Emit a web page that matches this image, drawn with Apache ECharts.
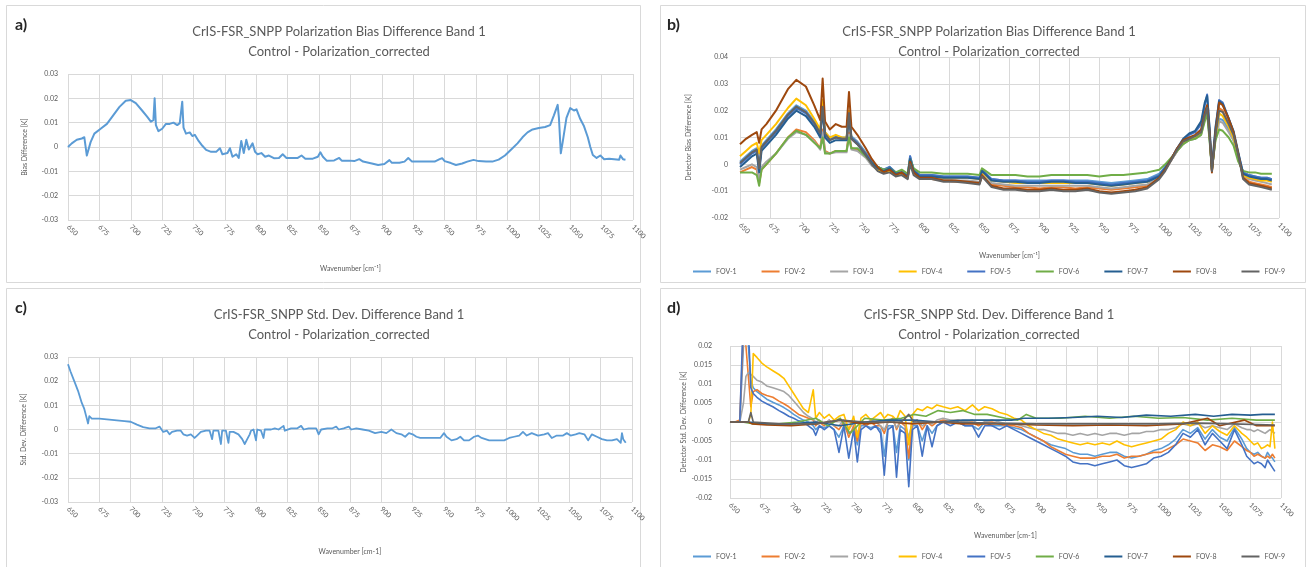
<!DOCTYPE html>
<html><head><meta charset="utf-8">
<script src="https://cdn.jsdelivr.net/npm/echarts/dist/echarts.min.js"></script>
<style>html,body{margin:0;padding:0;background:#fff}#c{width:1310px;height:567px}</style>
</head><body><div id="c"></div>
<script>
// ---------- DATA ----------
const titleTop = 'CrIS-FSR_SNPP Polarization Bias Difference Band 1\nControl - Polarization_corrected';
const titleBot = 'CrIS-FSR_SNPP Std. Dev. Difference Band 1\nControl - Polarization_corrected';
const fovNames = ['FOV-1','FOV-2','FOV-3','FOV-4','FOV-5','FOV-6','FOV-7','FOV-8','FOV-9'];
const fovColors = ['#5B9BD5','#ED7D31','#A5A5A5','#FFC000','#4472C4','#70AD47','#255E91','#9E480E','#636363'];

// panel a: [wavenumber, bias difference]
const biasA = [[650,0],[653,0.0015],[657,0.003],[661,0.0035],[663,0.004],[665,-0.0035],[666,-0.004],[668,0.002],[671,0.0055],[676,0.0075],[681,0.0095],[686,0.013],[691,0.0165],[696,0.019],[700,0.0193],[704,0.018],[709,0.015],[713,0.0125],[716,0.0104],[718,0.011],[719,0.02],[720,0.009],[722,0.0065],[725,0.0075],[728,0.0095],[731,0.0095],[734,0.01],[737,0.009],[739,0.0098],[741,0.0186],[742,0.008],[744,0.0055],[747,0.006],[749,0.0045],[751,0.005],[754,0.0025],[757,0.0005],[760,-0.0012],[764,-0.002],[768,-0.002],[771,-0.0005],[773,-0.003],[777,-0.0025],[779,-0.0005],[781,-0.004],[784,-0.003],[786,-0.0045],[788,0.0025],[790,-0.0025],[792,0.003],[794,-0.001],[797,0.0015],[799,-0.002],[801,-0.003],[804,-0.0025],[807,-0.004],[810,-0.0035],[814,-0.0046],[818,-0.0045],[821,-0.003],[824,-0.0045],[828,-0.0045],[833,-0.0045],[836,-0.0035],[839,-0.0048],[845,-0.0048],[849,-0.004],[851,-0.0022],[853,-0.004],[856,-0.0056],[862,-0.0055],[866,-0.0045],[868,-0.0056],[874,-0.0056],[878,-0.0058],[882,-0.005],[885,-0.006],[892,-0.0068],[897,-0.0074],[902,-0.007],[906,-0.0054],[908,-0.0065],[914,-0.0065],[918,-0.006],[921,-0.0045],[924,-0.006],[930,-0.006],[936,-0.006],[942,-0.006],[946,-0.005],[948,-0.0046],[950,-0.0058],[955,-0.0066],[959,-0.0074],[964,-0.0068],[968,-0.006],[973,-0.0053],[977,-0.0058],[983,-0.006],[988,-0.006],[993,-0.0052],[998,-0.0035],[1003,-0.001],[1008,0.0015],[1012,0.004],[1016,0.006],[1020,0.0072],[1025,0.0078],[1030,0.0082],[1034,0.009],[1037,0.013],[1040,0.0173],[1041,0.012],[1042.5,-0.0026],[1044,0.002],[1047,0.012],[1050,0.016],[1053,0.015],[1055,0.0155],[1058,0.0115],[1061,0.0085],[1064,0.004],[1066,0],[1068,-0.0033],[1071,-0.0045],[1074,-0.0035],[1077,-0.005],[1081,-0.0048],[1085,-0.005],[1089,-0.0052],[1090,-0.0035],[1092,-0.005],[1094,-0.0052]];

// panel c: [wavenumber, std. dev. difference]
const stdC = [[650,0.027],[652,0.024],[655,0.02],[658,0.016],[661,0.011],[663,0.0085],[665,0.0045],[666,0.0025],[667,0.0055],[669,0.0045],[675,0.0045],[685,0.004],[695,0.0035],[700,0.0032],[705,0.002],[710,0.001],[715,0.0005],[720,0.0005],[723,0.0012],[726,-0.001],[729,-0.0005],[731,-0.002],[733,-0.001],[737,-0.0005],[740,-0.0005],[742,-0.002],[745,-0.0025],[748,-0.002],[751,-0.0035],[753,-0.0025],[756,-0.001],[760,-0.0005],[763,-0.0005],[765,-0.004],[766,-0.0005],[770,-0.0005],[772,-0.006],[773,-0.0005],[776,-0.0005],[778,-0.0055],[779,-0.001],[782,-0.001],[786,-0.002],[789,-0.004],[791,-0.006],[793,-0.004],[795,-0.002],[796,-0.0005],[798,0],[800,-0.0045],[801,0],[804,-0.0005],[806,-0.0035],[807,0],[812,0],[815,0.0005],[818,0],[822,0.0015],[823,-0.0005],[828,0.0005],[833,0.0005],[836,0.0015],[838,0],[842,0.0005],[848,0.0005],[850,-0.002],[852,0],[857,0.0005],[861,0.0005],[864,0.0012],[866,0],[870,0.0005],[874,0.0012],[876,0],[880,0.0005],[885,0],[890,-0.0005],[895,-0.0015],[900,-0.001],[904,-0.0015],[908,0],[912,-0.0015],[916,-0.002],[919,-0.003],[922,-0.0015],[925,-0.002],[928,-0.003],[931,-0.0035],[936,-0.0035],[942,-0.0035],[947,-0.0035],[950,-0.0015],[952,-0.003],[956,-0.0045],[960,-0.004],[963,-0.003],[966,-0.0045],[970,-0.0045],[974,-0.003],[977,-0.0025],[980,-0.0035],[986,-0.0045],[992,-0.0045],[998,-0.0045],[1002,-0.0035],[1006,-0.003],[1010,-0.0025],[1013,-0.001],[1016,-0.0025],[1020,-0.0015],[1025,-0.0025],[1030,-0.002],[1033,-0.0015],[1036,-0.0035],[1040,-0.0025],[1045,-0.0025],[1048,-0.0015],[1051,-0.0025],[1055,-0.002],[1058,-0.0015],[1062,-0.002],[1065,-0.0045],[1068,-0.002],[1072,-0.003],[1076,-0.004],[1080,-0.0045],[1084,-0.0045],[1088,-0.004],[1091,-0.0055],[1092,-0.0015],[1093,-0.004],[1095,-0.0055]];

// panel b: shared wavenumbers, one value list per FOV
const wnB = [650,655,660,664,666,668,672,680,690,697,
  705,712,717,719,721,725,730,735,739,741,
  743,748,755,760,765,770,775,780,785,790,
  792,795,800,810,820,830,840,850,852,860,
  870,880,890,900,910,920,930,940,950,960,
  970,980,990,1000,1005,1010,1015,1020,1025,1030,
  1035,1038,1040,1042,1044,1047,1050,1053,1058,1062,
  1066,1070,1075,1080,1085,1090,1094];
const b1 = [0.001,0.003,0.005,0.006,-0.001,0.007,0.009,0.013,0.019,0.022,
  0.020,0.016,0.012,0.022,0.012,0.0095,0.0105,0.010,0.010,0.019,
  0.0105,0.0085,0.0045,0.001,-0.001,-0.002,-0.001,-0.003,-0.0025,-0.004,
  0.003,-0.002,-0.004,-0.004,-0.0045,-0.0045,-0.0045,-0.005,-0.002,-0.0055,
  -0.006,-0.006,-0.006,-0.006,-0.006,-0.006,-0.006,-0.006,-0.0065,-0.007,
  -0.0065,-0.006,-0.0055,-0.0035,-0.001,0.0015,0.005,0.008,0.0095,0.010,
  0.0125,0.018,0.020,0.010,-0.002,0.010,0.017,0.0165,0.013,0.009,
  0.0025,-0.003,-0.004,-0.0045,-0.005,-0.005,-0.0055];
const b2 = [-0.003,-0.002,-0.001,-0.002,-0.007,-0.002,0.000,0.004,0.010,0.013,
  0.012,0.009,0.006,0.013,0.005,0.004,0.005,0.005,0.005,0.012,
  0.006,0.0055,0.003,0.0,-0.002,-0.003,-0.0025,-0.004,-0.0035,-0.005,
  0.001,-0.003,-0.005,-0.0055,-0.006,-0.0065,-0.0065,-0.007,-0.0045,-0.0075,
  -0.008,-0.0085,-0.0085,-0.009,-0.0085,-0.0085,-0.009,-0.0085,-0.009,-0.0095,
  -0.009,-0.0085,-0.008,-0.005,-0.002,0.0015,0.005,0.008,0.0095,0.0105,
  0.0125,0.019,0.022,0.012,-0.0025,0.012,0.021,0.020,0.0155,0.011,
  0.0035,-0.0045,-0.0065,-0.007,-0.0075,-0.008,-0.0085];
const b3 = [-0.002,-0.001,0.0,-0.001,-0.006,-0.001,0.001,0.004,0.0095,0.012,
  0.011,0.0085,0.0055,0.012,0.0045,0.004,0.0045,0.0045,0.0045,0.011,
  0.0055,0.005,0.0025,-0.0005,-0.002,-0.003,-0.0025,-0.004,-0.0035,-0.005,
  0.0015,-0.003,-0.0045,-0.005,-0.0055,-0.006,-0.006,-0.0065,-0.004,-0.007,
  -0.0075,-0.008,-0.008,-0.008,-0.008,-0.008,-0.008,-0.008,-0.0085,-0.009,
  -0.0085,-0.008,-0.0075,-0.0045,-0.0015,0.0015,0.005,0.0075,0.009,0.0095,
  0.011,0.017,0.019,0.010,-0.0025,0.010,0.016,0.0155,0.012,0.009,
  0.0025,-0.004,-0.0055,-0.006,-0.0065,-0.007,-0.0075];
const b4 = [0.003,0.005,0.007,0.008,0.004,0.009,0.011,0.015,0.021,0.0245,
  0.022,0.017,0.013,0.024,0.012,0.010,0.011,0.010,0.010,0.020,
  0.010,0.008,0.004,0.0005,-0.002,-0.003,-0.0025,-0.004,-0.0035,-0.005,
  0.002,-0.003,-0.0045,-0.0045,-0.005,-0.005,-0.005,-0.0055,-0.003,-0.006,
  -0.0065,-0.007,-0.007,-0.007,-0.007,-0.007,-0.007,-0.007,-0.0075,-0.008,
  -0.0075,-0.007,-0.0065,-0.004,-0.0015,0.002,0.0055,0.008,0.0095,0.010,
  0.012,0.018,0.021,0.011,-0.002,0.010,0.019,0.018,0.014,0.010,
  0.003,-0.004,-0.005,-0.0055,-0.006,-0.006,-0.0065];
const b5 = [0.000,0.002,0.004,0.005,-0.002,0.006,0.008,0.012,0.018,0.021,
  0.019,0.015,0.011,0.021,0.011,0.009,0.010,0.0095,0.0095,0.019,
  0.010,0.008,0.004,0.001,-0.001,-0.002,-0.001,-0.003,-0.003,-0.004,
  0.003,-0.002,-0.004,-0.004,-0.0045,-0.0045,-0.0045,-0.005,-0.002,-0.0055,
  -0.006,-0.006,-0.0065,-0.0065,-0.006,-0.006,-0.0065,-0.0065,-0.007,-0.0075,
  -0.007,-0.0065,-0.006,-0.004,-0.001,0.002,0.006,0.009,0.011,0.012,
  0.015,0.022,0.026,0.013,-0.002,0.013,0.024,0.023,0.017,0.012,
  0.004,-0.003,-0.004,-0.0045,-0.005,-0.005,-0.0055];
const b6 = [-0.003,-0.003,-0.003,-0.004,-0.008,-0.002,0.000,0.004,0.010,0.0125,
  0.011,0.008,0.006,0.010,0.004,0.004,0.005,0.005,0.005,0.010,
  0.006,0.006,0.003,0.0005,-0.001,-0.002,-0.0015,-0.003,-0.002,-0.0035,
  0.002,-0.0015,-0.003,-0.003,-0.0035,-0.0035,-0.0035,-0.004,-0.0015,-0.004,
  -0.004,-0.004,-0.0045,-0.0045,-0.004,-0.004,-0.004,-0.004,-0.0045,-0.004,
  -0.004,-0.0035,-0.003,-0.002,0.0,0.0025,0.005,0.0075,0.009,0.0095,
  0.011,0.016,0.019,0.009,-0.002,0.009,0.013,0.0125,0.010,0.007,
  0.001,-0.0025,-0.003,-0.003,-0.0035,-0.0035,-0.0035];
const b7 = [-0.001,0.001,0.003,0.004,-0.003,0.005,0.007,0.011,0.017,0.020,
  0.018,0.014,0.010,0.020,0.010,0.008,0.009,0.009,0.009,0.018,
  0.0095,0.0075,0.0035,0.0005,-0.0015,-0.0025,-0.0015,-0.0035,-0.003,-0.0045,
  0.002,-0.0025,-0.0045,-0.0045,-0.005,-0.005,-0.005,-0.0055,-0.0025,-0.006,
  -0.0065,-0.0065,-0.007,-0.007,-0.0065,-0.0065,-0.007,-0.007,-0.0075,-0.008,
  -0.0075,-0.007,-0.0065,-0.0045,-0.0015,0.002,0.006,0.0095,0.0115,0.0125,
  0.016,0.023,0.0255,0.014,-0.001,0.014,0.0235,0.0225,0.017,0.0125,
  0.0045,-0.0035,-0.0045,-0.005,-0.0055,-0.0055,-0.006];
const b8 = [0.0075,0.0095,0.011,0.012,0.008,0.013,0.015,0.020,0.028,0.0315,
  0.029,0.022,0.0165,0.032,0.016,0.013,0.015,0.014,0.014,0.027,
  0.014,0.011,0.006,0.002,-0.001,-0.003,-0.002,-0.004,-0.003,-0.005,
  0.001,-0.003,-0.005,-0.005,-0.006,-0.006,-0.0065,-0.007,-0.004,-0.008,
  -0.009,-0.009,-0.0095,-0.0095,-0.009,-0.0095,-0.0095,-0.009,-0.010,-0.0105,
  -0.010,-0.0095,-0.0085,-0.005,-0.002,0.002,0.006,0.009,0.010,0.011,
  0.013,0.019,0.022,0.012,-0.003,0.012,0.023,0.022,0.017,0.012,
  0.004,-0.005,-0.007,-0.0075,-0.008,-0.0085,-0.009];
const b9 = [0.0005,0.0025,0.0045,0.0055,-0.0015,0.0065,0.0085,0.0125,0.0185,0.0215,
  0.0195,0.0155,0.0115,0.0215,0.0115,0.009,0.010,0.0095,0.0095,0.019,
  0.0095,0.0075,0.0035,0.0,-0.0025,-0.0035,-0.003,-0.0045,-0.004,-0.0055,
  0.0,-0.004,-0.0055,-0.0055,-0.0065,-0.0065,-0.007,-0.0075,-0.0045,-0.0085,
  -0.0095,-0.0095,-0.010,-0.010,-0.0095,-0.010,-0.010,-0.0095,-0.0105,-0.011,
  -0.0105,-0.010,-0.009,-0.0055,-0.0025,0.0015,0.0055,0.0085,0.0095,0.0105,
  0.012,0.018,0.021,0.011,-0.0025,0.011,0.020,0.0195,0.015,0.011,
  0.0035,-0.0055,-0.0075,-0.008,-0.0085,-0.009,-0.0095];

// panel d: shared wavenumbers for FOV-1..5, pairs for near-zero FOV-6..9
const wnD = [650,654,658,661,663,665,667,669,672,676,
  680,685,690,694,698,702,706,710,714,718,
  720,723,727,731,735,739,743,747,751,754,
  757,761,765,769,773,776,779,783,786,789,
  793,796,799,803,807,811,815,819,824,830,
  836,842,848,853,858,864,870,876,882,888,
  894,900,906,912,918,924,930,936,942,948,
  954,960,966,972,978,984,990,996,1002,1008,
  1014,1020,1026,1032,1038,1044,1050,1056,1062,1068,
  1072,1075,1078,1081,1084,1087,1089,1091,1093,1095];
const d1 = [0,0,0,0.02,0.03,0.02,0.011,0.009,0.008,0.007,
  0.006,0.0052,0.0045,0.0038,0.003,0.002,0.0012,0.0005,0,-0.001,
  -0.002,-0.001,-0.0015,-0.001,-0.002,-0.004,-0.001,-0.003,-0.002,-0.006,
  -0.001,-0.001,-0.0015,-0.001,-0.002,-0.009,-0.001,-0.001,-0.008,-0.001,
  -0.002,-0.01,-0.001,-0.001,-0.005,-0.001,-0.003,-0.001,0,0,
  0,-0.001,-0.001,-0.002,0,-0.001,-0.001,-0.001,-0.0015,-0.002,
  -0.003,-0.004,-0.005,-0.006,-0.0065,-0.007,-0.008,-0.0085,-0.0085,-0.009,
  -0.0085,-0.008,-0.008,-0.009,-0.0095,-0.009,-0.0085,-0.0075,-0.007,-0.006,
  -0.0045,-0.002,-0.003,-0.0015,-0.0045,-0.002,-0.004,-0.005,-0.0015,-0.0045,
  -0.007,-0.008,-0.0085,-0.008,-0.009,-0.0095,-0.008,-0.009,-0.0095,-0.0105];
const d2 = [0,0,0.0005,0.025,0.02,0.012,0.004,0.008,0.0085,0.0075,
  0.007,0.0065,0.0055,0.0048,0.004,0.003,0.002,0.0015,0.001,0.0005,
  -0.001,0,-0.001,0.0005,-0.001,-0.002,0,-0.004,-0.001,-0.005,
  0,-0.001,0,-0.001,-0.001,-0.003,0,0.001,-0.002,0,
  -0.001,-0.0095,0,0.0005,-0.002,0,-0.001,0,0.0005,0,
  0.0005,0,0,-0.001,0,0,-0.0005,-0.001,-0.001,-0.0015,
  -0.003,-0.004,-0.005,-0.0065,-0.0075,-0.0085,-0.009,-0.0095,-0.0095,-0.0095,
  -0.009,-0.009,-0.0085,-0.0095,-0.009,-0.009,-0.0085,-0.008,-0.008,-0.007,
  -0.006,-0.0045,-0.005,-0.0055,-0.0075,-0.006,-0.0065,-0.0075,-0.005,-0.0065,
  -0.0075,-0.008,-0.009,-0.0085,-0.009,-0.0095,-0.009,-0.0095,-0.0085,-0.0095];
const d3 = [0,0,0,0.005,0.012,0.013,0.0125,0.012,0.011,0.0105,
  0.0095,0.009,0.0085,0.008,0.007,0.0055,0.004,0.0025,0.0015,0.0008,
  0,0.0005,-0.0005,0.0005,-0.001,-0.001,0.0005,-0.002,0,-0.003,
  0,-0.0005,0.0005,0,-0.001,-0.002,0,0.0005,-0.0015,0,
  -0.0005,-0.004,0,0.0005,-0.001,0,-0.0005,0.0005,0.001,0.0005,
  0.0005,0,0.0005,-0.0005,0,0.0005,0,-0.0005,-0.0005,-0.001,
  -0.0015,-0.002,-0.002,-0.0025,-0.003,-0.003,-0.0035,-0.003,-0.0035,-0.003,
  -0.0035,-0.003,-0.003,-0.0035,-0.003,-0.003,-0.0025,-0.0025,-0.002,-0.002,
  -0.0015,-0.0005,-0.001,-0.0005,-0.0015,-0.001,-0.0015,-0.002,-0.0005,-0.0015,
  -0.002,-0.002,-0.0025,-0.002,-0.0025,-0.003,-0.0025,-0.002,-0.0025,-0.003];
const d4 = [0,0,0,0,0,0,0.002,0.018,0.017,0.0155,
  0.0145,0.0135,0.0125,0.0115,0.0095,0.0075,0.0055,0.0035,0.0025,0.0085,
  0.001,0.0025,0.001,0.002,0.0005,0.0015,0.002,-0.002,0.0015,-0.004,
  0.001,0.002,0.0005,0.0015,0.0025,0.001,0.002,0.0015,0.0005,0.003,
  0.0015,-0.006,0.002,0.0035,0.003,0.004,0.0035,0.0045,0.004,0.0035,
  0.004,0.003,0.0045,0.003,0.004,0.0035,0.0025,0.002,0.001,0.0005,
  -0.001,-0.002,-0.003,-0.0035,-0.0045,-0.005,-0.0055,-0.006,-0.0055,-0.006,
  -0.0055,-0.006,-0.005,-0.006,-0.0065,-0.006,-0.0055,-0.005,-0.0045,-0.003,
  -0.002,0,-0.001,0,-0.003,-0.001,-0.0025,-0.0035,-0.001,-0.003,
  -0.004,-0.005,-0.006,-0.0055,-0.007,-0.0065,-0.006,-0.0065,0,-0.007];
const d5 = [0,0,0,0.03,0.03,0.025,0.009,0.0075,0.0065,0.0055,
  0.0048,0.004,0.003,0.0023,0.0015,0.001,0.0003,0,-0.001,-0.002,
  -0.0035,-0.001,-0.002,-0.001,-0.002,-0.008,-0.001,-0.0095,-0.002,-0.0105,
  -0.002,-0.001,-0.002,-0.001,-0.003,-0.014,-0.002,-0.001,-0.0145,-0.002,
  -0.003,-0.017,-0.002,-0.001,-0.009,-0.001,-0.0065,-0.001,0,-0.001,
  0,-0.001,-0.001,-0.004,-0.001,-0.001,-0.002,-0.001,-0.002,-0.003,
  -0.004,-0.005,-0.006,-0.007,-0.008,-0.009,-0.0105,-0.011,-0.011,-0.0115,
  -0.011,-0.0105,-0.01,-0.0115,-0.012,-0.0115,-0.011,-0.0095,-0.009,-0.008,
  -0.006,-0.003,-0.004,-0.002,-0.006,-0.003,-0.005,-0.007,-0.002,-0.006,
  -0.009,-0.01,-0.011,-0.0105,-0.011,-0.012,-0.01,-0.011,-0.012,-0.013];
const d6 = [[650,0],[660,0],[670,-0.0005],[690,-0.0005],[705,0],[720,0.001],[730,-0.001],[740,0.001],[748,-0.003],[760,0.001],[775,0.0005],[790,0.001],[800,0.002],[810,0.0015],[820,0.003],[830,0.0025],[840,0.003],[850,0.002],[860,0.002],[875,0.001],[885,0.0005],[892,0.002],[900,0.001],[920,0.001],[940,0.0015],[960,0.001],[980,0.0015],[1000,0.001],[1020,0.0012],[1040,0.0005],[1060,0.001],[1080,0.0005],[1095,0.0005]];
const d7 = [[650,0],[665,0],[680,-0.0005],[700,-0.0005],[720,0],[740,-0.001],[760,0],[780,0.0005],[800,0.0005],[820,0],[840,0.0005],[860,0.0005],[880,0.0005],[890,0.001],[910,0.001],[930,0.0012],[950,0.0015],[970,0.0012],[990,0.0018],[1010,0.0015],[1030,0.002],[1045,0.0015],[1060,0.002],[1075,0.0018],[1085,0.002],[1095,0.002]];
const d8 = [[650,0],[665,0],[668,-0.0005],[680,-0.0008],[700,-0.001],[720,-0.0005],[740,0.0005],[760,-0.0005],[780,0],[800,-0.0005],[820,0],[840,-0.0005],[860,-0.0005],[880,-0.0005],[900,-0.0008],[930,-0.001],[960,-0.0008],[990,-0.001],[1020,-0.0005],[1040,0.001],[1050,-0.001],[1070,0.0005],[1080,-0.001],[1095,-0.001]];
const d9 = [[650,0],[665,0],[667,0.0025],[669,0],[690,-0.0005],[720,-0.0005],[740,0.0005],[760,0],[790,0],[796,0.002],[800,0],[830,0],[860,-0.0003],[900,-0.0005],[950,-0.0005],[1000,-0.0005],[1030,-0.0003],[1060,-0.0005],[1095,-0.0008]];

// ---------- CHART ----------
const FONT = 'Lato, "Liberation Sans", sans-serif';
const GREY = '#595959';
const zip = (xs, ys) => xs.map((x, i) => [x, ys[i]]);
const bSeries = [b1,b2,b3,b4,b5,b6,b7,b8,b9].map(v => zip(wnB, v));
const dSeries = [zip(wnD,d1),zip(wnD,d2),zip(wnD,d3),zip(wnD,d4),zip(wnD,d5),d6,d7,d8,d9];

function xAx(gi, name, gap) {
  return {type:'value', gridIndex:gi, min:650, max:1100, interval:25,
    name:name, nameLocation:'middle', nameGap:gap,
    nameTextStyle:{fontSize:7, color:GREY, fontFamily:FONT},
    axisLine:{show:true, lineStyle:{color:'#d9d9d9'}}, axisTick:{show:false},
    axisLabel:{rotate:-45, fontSize:7, color:GREY, fontFamily:FONT, margin:6, formatter:v => String(v)},
    splitLine:{show:true, lineStyle:{color:'#d9d9d9', width:1}}};
}
function yAx(gi, name, min, max, iv, gap, margin) {
  return {type:'value', gridIndex:gi, min:min, max:max, interval:iv,
    name:name, nameLocation:'middle', nameGap:gap, nameRotate:90,
    nameTextStyle:{fontSize:7, color:GREY, fontFamily:FONT},
    axisLine:{show:false}, axisTick:{show:false},
    axisLabel:{fontSize:7, color:GREY, fontFamily:FONT, margin:margin},
    splitLine:{show:true, lineStyle:{color:'#d9d9d9', width:1}}};
}
function line(name, data, color, xi, w) {
  return {type:'line', name:name, data:data, xAxisIndex:xi, yAxisIndex:xi,
    showSymbol:false, symbol:'none', animation:false,
    lineStyle:{color:color, width:w, join:'round'}, itemStyle:{color:color}};
}
const series = [line('Bias', biasA, '#5B9BD5', 0, 2)];
bSeries.forEach((d, i) => series.push(line(fovNames[i], d, fovColors[i], 1, 2)));
series.push(line('StdDev', stdC, '#5B9BD5', 2, 1.8));
dSeries.forEach((d, i) => series.push(line(fovNames[i], d, fovColors[i], 3, 1.6)));

function titleAt(text, cx, top) {
  return {text:text, left:cx, top:top, textAlign:'center',
    textStyle:{fontSize:13, fontWeight:'normal', color:GREY, fontFamily:FONT, lineHeight:20}};
}
function legendAt(top) {
  return {data:fovNames, top:top, left:688, width:620, orient:'horizontal', icon:'rect',
    itemWidth:18, itemHeight:2, itemGap:25,
    textStyle:{fontSize:7, color:GREY, fontFamily:FONT}};
}
function panelLabel(t, x, y) {
  return {type:'text', left:x, top:y, style:{text:t, fontSize:16, fontWeight:'bold', fill:'#262626', fontFamily:FONT}};
}
function frame(x, y, w, h) {
  return {type:'rect', shape:{x:x, y:y, width:w, height:h}, style:{fill:'none', stroke:'#d9d9d9', lineWidth:1}, silent:true};
}

const option = {
  backgroundColor:'#fff', animation:false,
  title:[titleAt(titleTop, 334, 17), titleAt(titleTop, 984, 17), titleAt(titleBot, 334, 300), titleAt(titleBot, 984, 300)],
  legend:[legendAt(263), legendAt(548)],
  grid:[
    {left:68, top:74, width:565, height:146},
    {left:740, top:57, width:539, height:161},
    {left:68, top:357, width:564, height:145},
    {left:730, top:346, width:551, height:152}
  ],
  xAxis:[xAx(0,'Wavenumber [cm\u207B\u00B9]',45), xAx(1,'Wavenumber [cm\u207B\u00B9]',34), xAx(2,'Wavenumber [cm-1]',46), xAx(3,'Wavenumber [cm-1]',34)],
  yAxis:[yAx(0,'Bias Difference [K]',-0.03,0.03,0.01,40,10), yAx(1,'Detector Bias Difference [K]',-0.02,0.04,0.01,48,12),
         yAx(2,'Std. Dev. Difference [K]',-0.03,0.03,0.01,41,10), yAx(3,'Detector Std. Dev. Difference [K]',-0.02,0.02,0.005,43,18)],
  series:series,
  graphic:[frame(6.5,5.5,634,277), frame(660.5,5.5,645,277), frame(6.5,288.5,634,285), frame(660.5,288.5,645,285),
    panelLabel('a)',15,17), panelLabel('b)',667,17), panelLabel('c)',15,300), panelLabel('d)',667,300)]
};
const chart = echarts.init(document.getElementById('c'), null, {renderer:'canvas'});
chart.setOption(option);
</script></body></html>
